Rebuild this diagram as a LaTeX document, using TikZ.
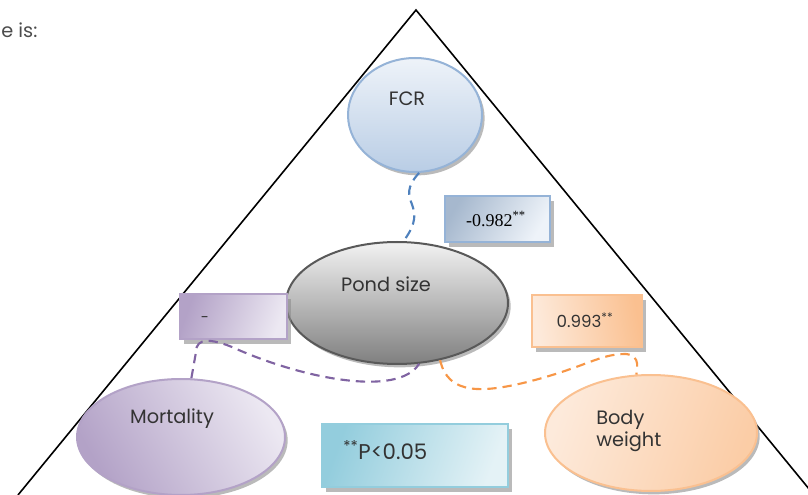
\documentclass[tikz,border=0pt]{standalone}
\usepackage{fontspec}
\setmainfont{Poppins}
\newfontfamily\numserif{Liberation Serif}
\usetikzlibrary{shapes.geometric,shadows}
\definecolor{bluebd}{HTML}{95B3D7}
\definecolor{bluelt}{HTML}{EEF3F9}
\definecolor{bluedk}{HTML}{B9CDE5}
\definecolor{blueln}{HTML}{4F81BD}
\definecolor{greybd}{HTML}{595959}
\definecolor{purbd}{HTML}{B3A2C7}
\definecolor{purlt}{HTML}{ECE8F2}
\definecolor{purln}{HTML}{8064A2}
\definecolor{orabd}{HTML}{FAC090}
\definecolor{oralt}{HTML}{FDEADB}
\definecolor{oraln}{HTML}{F79646}
\definecolor{cyabd}{HTML}{93CDDD}
\definecolor{cyalt}{HTML}{E4F2F6}
\definecolor{txt}{HTML}{333333}
\begin{document}
\begin{tikzpicture}[x=0.75pt,y=-0.75pt,
  ell/.style 2 args={ellipse, minimum width=#1*0.75pt, minimum height=#2*0.75pt, inner sep=0pt, line width=1.5pt,
     drop shadow={shadow xshift=2pt, shadow yshift=-2.5pt, fill=black!45, opacity=0.6}},
  box/.style 2 args={rectangle, minimum width=#1*0.75pt, minimum height=#2*0.75pt, inner sep=0pt, line width=1.5pt,
     drop shadow={shadow xshift=3pt, shadow yshift=-3.5pt, fill=black!45, opacity=0.6}},
  lbl/.style={font=\fontsize{14.5}{17}\selectfont, text=txt, inner sep=0pt},
  dashln/.style={line width=1.6pt, dash pattern=on 7pt off 4.5pt}]
\useasboundingbox (0,0) rectangle (808,495);
\clip (0,0) rectangle (808,495);
% triangle
\draw[line width=1.2pt] (18,495) -- (416,10) -- (814,495);
\node[lbl, anchor=west, text=black!70] (intro) at (1,30) {e is:};
% ellipses
\node[ell={134}{114}, draw=bluebd, top color=bluelt, bottom color=bluedk] (fcr) at (415,115) {};
\node[ell={222}{122}, draw=greybd, top color=black!5, bottom color=black!50] (pond) at (397,303) {};
\node[ell={208}{116}, draw=purbd, left color=purbd, right color=purlt, shading angle=120] (mort) at (181,437) {};
\node[ell={212}{116}, draw=orabd, left color=oralt, right color=orabd!80, shading angle=70] (bw) at (651,433) {};
% boxes
\node[box={105}{46}, draw=bluebd, left color=bluedk!90!black, right color=bluelt, shading angle=60] (b1) at (497,219) {};
\node[box={107}{45}, draw=purbd, left color=purbd, right color=purlt, shading angle=70] (b2) at (233,317) {};
\node[box={110}{52}, draw=orabd, left color=oralt, right color=orabd, shading angle=100] (b3) at (587,321) {};
\node[box={186}{63}, draw=cyabd, left color=cyabd, right color=cyalt, shading angle=70] (b4) at (415,456) {};
% labels
\node[lbl] (tfcr) at (407,99) {FCR};
\node[lbl] (tpond) at (386,284) {Pond size};
\node[lbl] (tmort) at (172,419) {Mortality};
\node[lbl, align=left, anchor=west] (tbw) at (596,431) {Body\\[-1pt]weight};
\node[inner sep=0pt, font=\numserif\fontsize{13.5}{15}\selectfont] (t1) at (496,219) {-0.982\textsuperscript{**}};
\node[lbl, font=\fontsize{11}{13}\selectfont] (t2) at (205,320) {-};
\node[lbl, font=\fontsize{12.5}{14}\selectfont] (t3) at (585,320) {0.993\textsuperscript{**}};
\node[lbl, anchor=west, font=\fontsize{16}{18}\selectfont] (t4) at (343,450) {\textsuperscript{**}P<0.05};
% connectors
\draw[dashln, blueln] (fcr.-86) .. controls (392,203) and (432,203) .. (pond.84);
\draw[dashln, purln] (mort.80) -- (196,352) .. controls (196,337) and (212,339) .. (232,347) .. controls (300,378) and (398,398) .. (pond.-70);
\draw[dashln, oraln] (pond.-53) .. controls (448,395) and (482,394) .. (535,380) .. controls (590,365) and (600,354) .. (626,354) .. controls (642,356) and (636,370) .. (bw.104);
\end{tikzpicture}
\end{document}
